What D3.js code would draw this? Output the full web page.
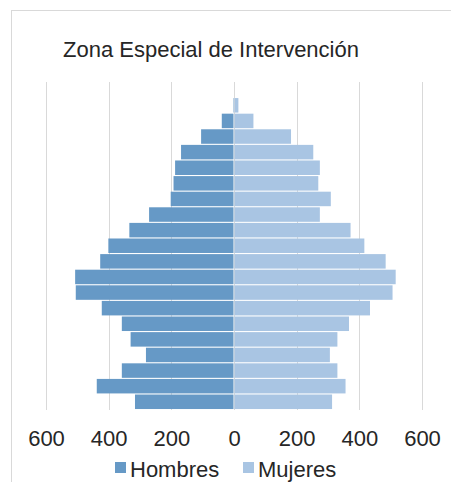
<!DOCTYPE html>
<html>
<head>
<meta charset="utf-8">
<script src="https://cdn.jsdelivr.net/npm/d3@7"></script>
<style>
  body { margin: 0; background: #fff; }
  text { font-family: "Liberation Sans", Arial, sans-serif; }
</style>
</head>
<body>
<div id="piramide"></div>
<script>
// Grupos de edad (de menor a mayor)
const edades = ["0-4", "5-9", "10-14", "15-19", "20-24", "25-29", "30-34", "35-39",
  "40-44", "45-49", "50-54", "55-59", "60-64", "65-69", "70-74", "75-79",
  "80-84", "85-89", "90-94", "95-99", "100+"];

// Población por sexo
const hombres = [316, 438, 358, 281, 330, 358, 422, 505, 507, 427, 401, 334, 271, 202, 193, 188, 169, 105, 39, 3, 0];
const mujeres = [313, 356, 330, 306, 330, 367, 434, 506, 516, 484, 416, 372, 274, 309, 269, 274, 253, 182, 62, 14, 0];

// Marcas del eje
const marcas = [-600, -400, -200, 0, 200, 400, 600];

const titulo = "Zona Especial de Intervención";
const colorHombres = "#6699c6";
const colorMujeres = "#a9c5e3";

const width = 451, height = 482;

const svg = d3.select("#piramide")
  .append("svg")
  .attr("width", width)
  .attr("height", height);

// Marco del gráfico
svg.append("rect")
  .attr("x", 11.5).attr("y", 10.5)
  .attr("width", 460).attr("height", 490)
  .attr("fill", "none")
  .attr("stroke", "#d9d9d9");

// Escalas
const x = d3.scaleLinear().domain([-600, 600]).range([46, 422]);
const y = d3.scaleBand()
  .domain(edades.slice().reverse())
  .range([82, 409.5])
  .paddingInner(0.07)
  .paddingOuter(0.03);

// Líneas de cuadrícula
svg.append("g")
  .selectAll("line")
  .data(marcas)
  .join("line")
  .attr("x1", d => Math.round(x(d)) + 0.5)
  .attr("x2", d => Math.round(x(d)) + 0.5)
  .attr("y1", 82)
  .attr("y2", 410)
  .attr("stroke", "#d9d9d9");

// Barras de hombres (a la izquierda)
svg.append("g")
  .selectAll("rect")
  .data(edades)
  .join("rect")
  .attr("x", (d, i) => x(-hombres[i]))
  .attr("y", d => y(d))
  .attr("width", (d, i) => x(0) - x(-hombres[i]) - 0.5)
  .attr("height", y.bandwidth())
  .attr("fill", colorHombres);

// Barras de mujeres (a la derecha)
svg.append("g")
  .selectAll("rect")
  .data(edades)
  .join("rect")
  .attr("x", x(0) + 0.5)
  .attr("y", d => y(d))
  .attr("width", (d, i) => Math.max(0, x(mujeres[i]) - x(0) - 0.5))
  .attr("height", y.bandwidth())
  .attr("fill", colorMujeres);

// Eje horizontal con valores absolutos
const eje = svg.append("g")
  .attr("transform", "translate(0,430)")
  .call(d3.axisBottom(x).tickValues(marcas).tickFormat(d => Math.abs(d)).tickSize(0).tickPadding(0));
eje.select(".domain").remove();
eje.selectAll("text")
  .attr("dy", "0.71em")
  .attr("font-size", "22px")
  .attr("font-family", "'Liberation Sans', Arial, sans-serif")
  .attr("fill", "#262626");

// Título
svg.append("text")
  .attr("x", 63)
  .attr("y", 57)
  .attr("font-size", "22px")
  .attr("fill", "#262626")
  .text(titulo);

// Leyenda
const leyenda = [
  { nombre: "Hombres", color: colorHombres, x: 115 },
  { nombre: "Mujeres", color: colorMujeres, x: 243 }
];
const gLey = svg.append("g");
gLey.selectAll("rect")
  .data(leyenda)
  .join("rect")
  .attr("x", d => d.x)
  .attr("y", 462)
  .attr("width", 11)
  .attr("height", 11)
  .attr("fill", d => d.color);
gLey.selectAll("text")
  .data(leyenda)
  .join("text")
  .attr("x", d => d.x + 15)
  .attr("y", 477)
  .attr("font-size", "22px")
  .attr("fill", "#262626")
  .text(d => d.nombre);
</script>
</body>
</html>
